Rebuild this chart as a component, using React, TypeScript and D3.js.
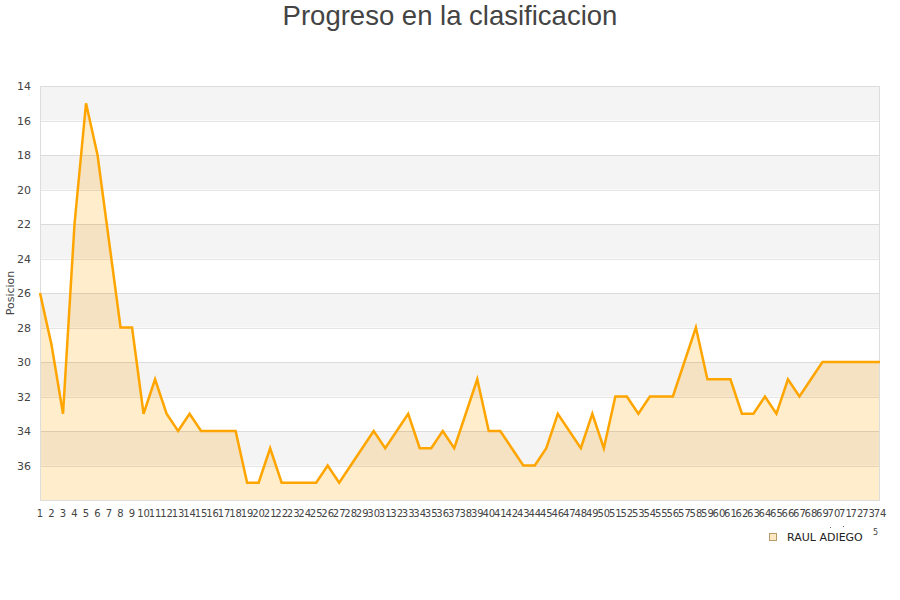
import { useEffect, useRef } from "react";
import * as d3 from "d3";

const WIDTH = 900;
const HEIGHT = 600;

const TITLE = "Progreso en la clasificacion";
const Y_LABEL = "Posicion";
const SERIES_NAME = "RAUL ADIEGO";

// jornadas 1..74
const rounds: number[] = Array.from({ length: 74 }, (_, i) => i + 1);

// position per round
const positions: number[] = [
  26, 29, 33, 22, 15, 18, 23, 28, 28, 33,
  31, 33, 34, 33, 34, 34, 34, 34, 37, 37,
  35, 37, 37, 37, 37, 36, 37, 36, 35, 34,
  35, 34, 33, 35, 35, 34, 35, 33, 31, 34,
  34, 35, 36, 36, 35, 33, 34, 35, 33, 35,
  32, 32, 33, 32, 32, 32, 30, 28, 31, 31,
  31, 33, 33, 32, 33, 31, 32, 31, 30, 30,
  30, 30, 30, 30,
];

const yTicks: number[] = [14, 16, 18, 20, 22, 24, 26, 28, 30, 32, 34, 36];

const margin = { top: 86, right: 20, bottom: 100, left: 40 };

export default function App() {
  const svgRef = useRef<SVGSVGElement>(null);

  useEffect(() => {
    if (!svgRef.current) return;
    const svg = d3.select(svgRef.current);
    svg.selectAll("*").remove();

    const x0 = margin.left;
    const x1 = WIDTH - margin.right;
    const y0 = margin.top;
    const y1 = HEIGHT - margin.bottom;

    const x = d3.scaleLinear().domain([1, rounds.length]).range([x0, x1]);
    const y = d3.scaleLinear().domain([14, 38]).range([y0, y1]);

    svg
      .append("text")
      .attr("x", WIDTH / 2)
      .attr("y", 25)
      .attr("text-anchor", "middle")
      .attr("font-family", "'Liberation Sans', Arial, sans-serif")
      .attr("font-size", "27.5px")
      .attr("fill", "#444")
      .text(TITLE);

    // plot background
    svg
      .append("rect")
      .attr("x", x0)
      .attr("y", y0)
      .attr("width", x1 - x0)
      .attr("height", y1 - y0)
      .attr("fill", "#fff");

    const data = rounds.map((r, i) => ({ r, p: positions[i] }));

    const area = d3
      .area<{ r: number; p: number }>()
      .x((d) => x(d.r))
      .y0(y1)
      .y1((d) => y(d.p));

    svg.append("path").datum(data).attr("d", area).attr("fill", "#ffedcc");

    // alternating bands drawn over the fill
    const bandStarts = d3.range(14, 38, 4);
    svg
      .append("g")
      .selectAll("rect")
      .data(bandStarts)
      .join("rect")
      .attr("x", x0)
      .attr("y", (d) => y(d))
      .attr("width", x1 - x0)
      .attr("height", (d) => y(d + 2) - y(d))
      .attr("fill", "rgba(0,0,0,0.045)");

    // grid lines
    svg
      .append("g")
      .selectAll("line")
      .data(yTicks.slice(1))
      .join("line")
      .attr("x1", x0)
      .attr("x2", x1)
      .attr("y1", (d) => Math.round(y(d)) + 0.5)
      .attr("y2", (d) => Math.round(y(d)) + 0.5)
      .attr("stroke", "rgba(0,0,0,0.1)")
      .attr("stroke-width", 1);

    // frame
    svg
      .append("rect")
      .attr("x", x0 + 0.5)
      .attr("y", y0 + 0.5)
      .attr("width", x1 - x0 - 1)
      .attr("height", y1 - y0)
      .attr("fill", "none")
      .attr("stroke", "#ddd");

    const line = d3
      .line<{ r: number; p: number }>()
      .x((d) => x(d.r))
      .y((d) => y(d.p));

    svg
      .append("path")
      .datum(data)
      .attr("d", line)
      .attr("fill", "none")
      .attr("stroke", "#ffa500")
      .attr("stroke-width", 2.5)
      .attr("stroke-linejoin", "miter");

    // y ticks
    svg
      .append("g")
      .selectAll("text")
      .data(yTicks)
      .join("text")
      .attr("x", 31)
      .attr("y", (d) => y(d) + 4)
      .attr("text-anchor", "end")
      .attr("font-family", "'DejaVu Sans', sans-serif")
      .attr("font-size", "11px")
      .attr("fill", "#444")
      .text((d) => d);

    svg
      .append("text")
      .attr("transform", `translate(14,${(y0 + y1) / 2}) rotate(-90)`)
      .attr("text-anchor", "middle")
      .attr("font-family", "'DejaVu Sans', sans-serif")
      .attr("font-size", "11px")
      .attr("fill", "#444")
      .text(Y_LABEL);

    // x ticks (they overlap, as in the original)
    svg
      .append("g")
      .selectAll("text")
      .data(rounds)
      .join("text")
      .attr("x", (d) => x(d))
      .attr("y", y1 + 17)
      .attr("text-anchor", "middle")
      .attr("font-family", "'DejaVu Sans', sans-serif")
      .attr("font-size", "10px")
      .attr("fill", "#444")
      .text((d) => d);

    // legend
    const lg = svg.append("g").attr("transform", "translate(769,533)");
    lg.append("rect")
      .attr("x", 0.5)
      .attr("y", 0.5)
      .attr("width", 7)
      .attr("height", 7)
      .attr("fill", "#fde8c4")
      .attr("stroke", "#b89a6a");
    lg.append("text")
      .attr("x", 18)
      .attr("y", 8)
      .attr("font-family", "'DejaVu Sans', sans-serif")
      .attr("font-size", "11px")
      .attr("fill", "#222")
      .text(SERIES_NAME);
    // stray marks next to the legend
    lg.append("rect").attr("x", 61).attr("y", -6).attr("width", 1).attr("height", 1).attr("fill", "#666");
    lg.append("rect").attr("x", 74).attr("y", -7).attr("width", 1).attr("height", 1).attr("fill", "#666");
    lg.append("text")
      .attr("x", 104)
      .attr("y", 2)
      .attr("font-family", "'DejaVu Sans', sans-serif")
      .attr("font-size", "8px")
      .attr("fill", "#444")
      .text("5");
  }, []);

  return (
    <div style={{ position: "absolute", left: 0, top: 0 }}>
      <svg ref={svgRef} width={WIDTH} height={HEIGHT} style={{ display: "block" }} />
    </div>
  );
}
